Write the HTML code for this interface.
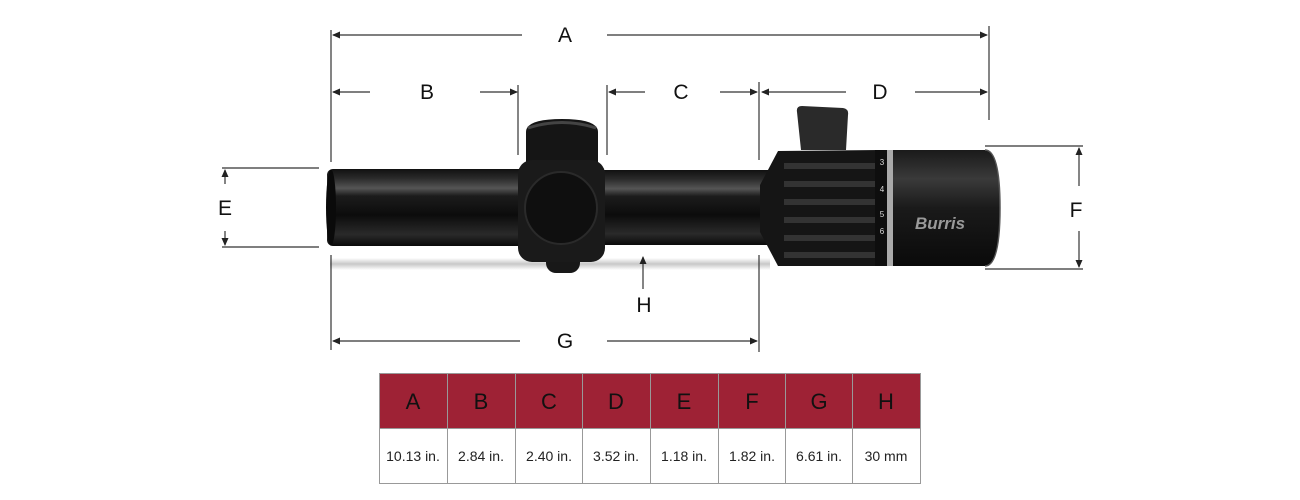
<!DOCTYPE html>
<html><head><meta charset="utf-8"><style>
html,body{margin:0;padding:0;background:#fff;width:1300px;height:500px;overflow:hidden}
svg{display:block}
text{font-family:"Liberation Sans",sans-serif}
</style></head><body>
<svg width="1300" height="500" viewBox="0 0 1300 500" xmlns="http://www.w3.org/2000/svg">
<defs>
<marker id="ah" markerWidth="8" markerHeight="8" refX="7" refY="4" orient="auto" markerUnits="userSpaceOnUse">
<path d="M0,0.5 L8,4 L0,7.5 Z" fill="#222"/></marker>
<linearGradient id="tube" x1="0" y1="0" x2="0" y2="1">
<stop offset="0" stop-color="#111"/><stop offset="0.12" stop-color="#2a2a2a"/><stop offset="0.25" stop-color="#555"/><stop offset="0.35" stop-color="#1c1c1c"/><stop offset="0.6" stop-color="#0c0c0c"/><stop offset="0.85" stop-color="#2a2a2a"/><stop offset="1" stop-color="#0a0a0a"/></linearGradient>
<linearGradient id="bell" x1="0" y1="0" x2="0" y2="1">
<stop offset="0" stop-color="#1a1a1a"/><stop offset="0.25" stop-color="#3a3a3a"/><stop offset="0.5" stop-color="#1a1a1a"/><stop offset="1" stop-color="#0a0a0a"/></linearGradient>
<linearGradient id="shadow" x1="0" y1="0" x2="0" y2="1">
<stop offset="0" stop-color="#fff"/><stop offset="0.5" stop-color="#c8c8c8"/><stop offset="1" stop-color="#fff"/></linearGradient>
</defs>
<!-- shadow -->
<rect x="330" y="258" width="440" height="12" fill="url(#shadow)"/>
<g stroke="#333" stroke-width="1.2" fill="none">
<line x1="331" y1="30" x2="331" y2="162"/><line x1="989" y1="26" x2="989" y2="120"/>
<line x1="522" y1="35" x2="333" y2="35" marker-end="url(#ah)"/>
<line x1="607" y1="35" x2="987" y2="35" marker-end="url(#ah)"/>
<line x1="518" y1="85" x2="518" y2="155"/>
<line x1="370" y1="92" x2="333" y2="92" marker-end="url(#ah)"/>
<line x1="480" y1="92" x2="517" y2="92" marker-end="url(#ah)"/>
<line x1="607" y1="85" x2="607" y2="155"/><line x1="759" y1="82" x2="759" y2="160"/>
<line x1="645" y1="92" x2="609" y2="92" marker-end="url(#ah)"/>
<line x1="720" y1="92" x2="757" y2="92" marker-end="url(#ah)"/>
<line x1="846" y1="92" x2="762" y2="92" marker-end="url(#ah)"/>
<line x1="915" y1="92" x2="987" y2="92" marker-end="url(#ah)"/>
<line x1="222" y1="168" x2="319" y2="168"/><line x1="222" y1="247" x2="319" y2="247"/>
<line x1="225" y1="184" x2="225" y2="170" marker-end="url(#ah)"/>
<line x1="225" y1="231" x2="225" y2="245" marker-end="url(#ah)"/>
<line x1="985" y1="146" x2="1083" y2="146"/><line x1="985" y1="269" x2="1083" y2="269"/>
<line x1="1079" y1="186" x2="1079" y2="148" marker-end="url(#ah)"/>
<line x1="1079" y1="231" x2="1079" y2="267" marker-end="url(#ah)"/>
<line x1="331" y1="255" x2="331" y2="350"/><line x1="759" y1="255" x2="759" y2="352"/>
<line x1="520" y1="341" x2="333" y2="341" marker-end="url(#ah)"/>
<line x1="607" y1="341" x2="757" y2="341" marker-end="url(#ah)"/>
<line x1="643" y1="289" x2="643" y2="257" marker-end="url(#ah)"/>
</g>
<g font-size="21" fill="#111" text-anchor="middle">
<text x="565" y="42">A</text><text x="427" y="99">B</text><text x="681" y="99">C</text>
<text x="880" y="99">D</text><text x="225" y="215">E</text><text x="1076" y="217">F</text>
<text x="565" y="348">G</text><text x="644" y="312">H</text>
</g>
<!-- eyepiece tube -->
<rect x="327" y="169" width="200" height="77" rx="6" fill="url(#tube)"/>
<ellipse cx="331" cy="207.5" rx="5" ry="38" fill="#0a0a0a"/>
<rect x="600" y="170" width="170" height="75" fill="url(#tube)"/>
<!-- turret -->
<path d="M526,167 L526,132 Q526,119 562,119 Q598,119 598,132 L598,167 Z" fill="#151515"/>
<path d="M528,128 Q562,117 596,128" stroke="#444" stroke-width="3" fill="none"/>
<rect x="546" y="250" width="34" height="23" rx="10" fill="#181818"/>
<rect x="518" y="160" width="87" height="102" rx="14" fill="#1a1a1a"/>
<circle cx="561" cy="208" r="36" fill="#0f0f0f" stroke="#2a2a2a" stroke-width="2"/>
<!-- lever -->
<path d="M797,112 Q796,106 802,106 L843,108 Q849,109 848,115 L846,150 L801,150 Z" fill="#2a2a2a"/>
<!-- power ring -->
<path d="M760,185 L778,151 L880,150 L880,266 L778,266 L760,232 Z" fill="#151515"/>
<g stroke="#333" stroke-width="6">
<line x1="784" y1="166" x2="875" y2="166"/><line x1="784" y1="184" x2="875" y2="184"/>
<line x1="784" y1="202" x2="875" y2="202"/><line x1="784" y1="220" x2="875" y2="220"/>
<line x1="784" y1="238" x2="875" y2="238"/><line x1="784" y1="255" x2="875" y2="255"/>
</g>
<rect x="875" y="150" width="12" height="116" fill="#0e0e0e"/>
<rect x="887" y="150" width="6" height="116" fill="#aaa"/>
<g font-size="8" fill="#ddd" text-anchor="middle">
<text x="882" y="165">3</text><text x="882" y="192">4</text><text x="882" y="217">5</text><text x="882" y="234">6</text>
</g>
<path d="M893,150 L985,150 Q1000,150 1000,208 Q1000,266 985,266 L893,266 Z" fill="url(#bell)"/>
<path d="M985,150 Q1000,150 1000,208 Q1000,266 985,266" fill="none" stroke="#555" stroke-width="1.5"/>
<text x="940" y="229" font-family="Liberation Serif,serif" font-style="italic" font-weight="bold" font-size="17" fill="#9a9a9a" text-anchor="middle">Burris</text>
<!-- table -->
<g font-size="22" text-anchor="middle">
<rect x="379.5" y="373.5" width="541" height="110" fill="#fff" stroke="#999"/>
<rect x="380" y="374" width="540" height="54" fill="#9e2235"/>
<line x1="379.5" y1="428.5" x2="920.5" y2="428.5" stroke="#999"/>
<g stroke="#999">
<line x1="447.5" y1="374" x2="447.5" y2="483"/><line x1="515.5" y1="374" x2="515.5" y2="483"/>
<line x1="582.5" y1="374" x2="582.5" y2="483"/><line x1="650.5" y1="374" x2="650.5" y2="483"/>
<line x1="718.5" y1="374" x2="718.5" y2="483"/><line x1="785.5" y1="374" x2="785.5" y2="483"/>
<line x1="852.5" y1="374" x2="852.5" y2="483"/>
</g>
<g fill="#111">
<text x="413" y="409">A</text><text x="481" y="409">B</text><text x="549" y="409">C</text><text x="616" y="409">D</text>
<text x="684" y="409">E</text><text x="752" y="409">F</text><text x="819" y="409">G</text><text x="886" y="409">H</text>
</g>
<g fill="#222" font-size="14">
<text x="413" y="461">10.13 in.</text><text x="481" y="461">2.84 in.</text><text x="549" y="461">2.40 in.</text><text x="616" y="461">3.52 in.</text>
<text x="684" y="461">1.18 in.</text><text x="752" y="461">1.82 in.</text><text x="819" y="461">6.61 in.</text><text x="886" y="461">30 mm</text>
</g>
</g>
</svg>
</body></html>
